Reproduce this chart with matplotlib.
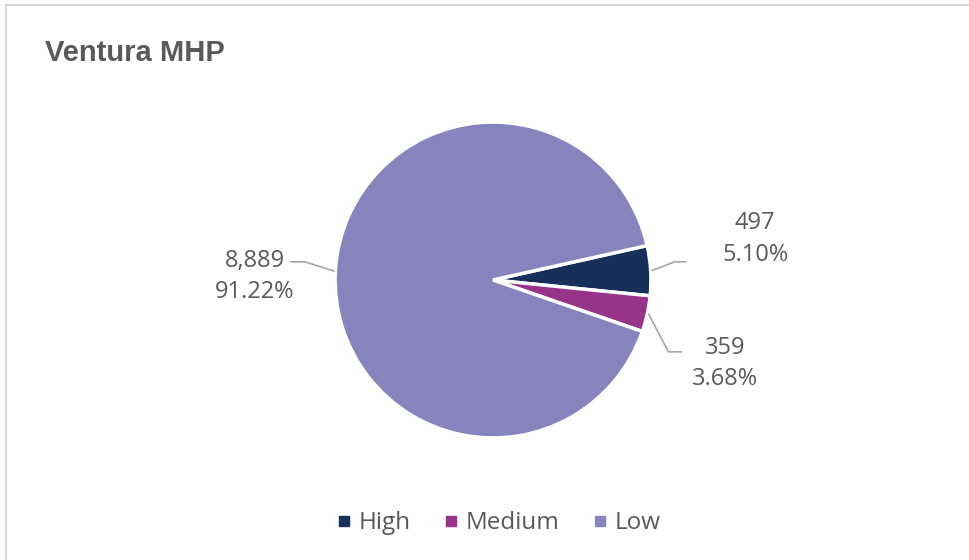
import numpy as np
import matplotlib
matplotlib.use("Agg")
import matplotlib.pyplot as plt
from matplotlib.lines import Line2D

categories = ["High", "Medium", "Low"]
counts = [497, 359, 8889]
percents = ["5.10%", "3.68%", "91.22%"]
colors = ["#17305a", "#97348a", "#8784bd"]

text_color = "#595959"
label_font = ["Open Sans", "DejaVu Sans"]

fig = plt.figure(figsize=(9.69, 5.6), dpi=100)

# chart frame (top and left edges visible)
fig.add_artist(Line2D([0.0065, 0.0065], [0, 0.991], color="#d9d9d9", lw=1.5,
                      transform=fig.transFigure))
fig.add_artist(Line2D([0.0065, 1.0], [0.991, 0.991], color="#d9d9d9", lw=1.5,
                      transform=fig.transFigure))

fig.text(0.046, 0.905, "Ventura MHP", fontsize=21, fontweight="bold",
         color=text_color, family=["Liberation Sans", "DejaVu Sans"],
         va="center", ha="left")

ax = fig.add_axes([0.5088 - 0.163, 0.5 - 0.282, 0.326, 0.564])
start = 12.6
wedges, _ = ax.pie(counts, colors=colors, startangle=start, counterclock=False,
                   wedgeprops=dict(edgecolor="white", linewidth=2.5))
ax.set_aspect("equal")
ax.set_xlim(-1, 1)
ax.set_ylim(-1, 1)

# leader lines and labels
label_offsets = [  # (elbow, end, text) in data units relative to pie radius
    ((1.15, 0.115), (1.22, 0.115), (1.66, 0.26)),
    ((1.11, -0.455), (1.19, -0.455), (1.47, -0.53)),
    ((-1.19, 0.115), (-1.28, 0.115), (-1.51, 0.02)),
]
for w, cnt, pct, (elbow, end, txt) in zip(wedges, counts, percents, label_offsets):
    mid = np.deg2rad((w.theta1 + w.theta2) / 2)
    x0, y0 = 1.01 * np.cos(mid), 1.01 * np.sin(mid)
    ax.plot([x0, elbow[0], end[0]], [y0, elbow[1], end[1]], color="#a6a6a6",
            lw=1.2, clip_on=False)
    ax.text(txt[0], txt[1], f"{cnt:,}\n{pct}", ha="center", va="center",
            fontsize=17, color=text_color, family=label_font,
            linespacing=1.4)

handles = [plt.Line2D([], [], marker="s", ls="", markersize=7.5,
                      markerfacecolor=c, markeredgecolor=c) for c in colors]
leg = fig.legend(handles, categories, loc="center", bbox_to_anchor=(0.5145, 0.066),
                 ncol=3, frameon=False, handletextpad=0.3, columnspacing=1.35,
                 handlelength=0.6,
                 prop={"family": label_font, "size": 17.5})
for t in leg.get_texts():
    t.set_color(text_color)

fig.savefig("out.png", dpi=100, facecolor="white")
